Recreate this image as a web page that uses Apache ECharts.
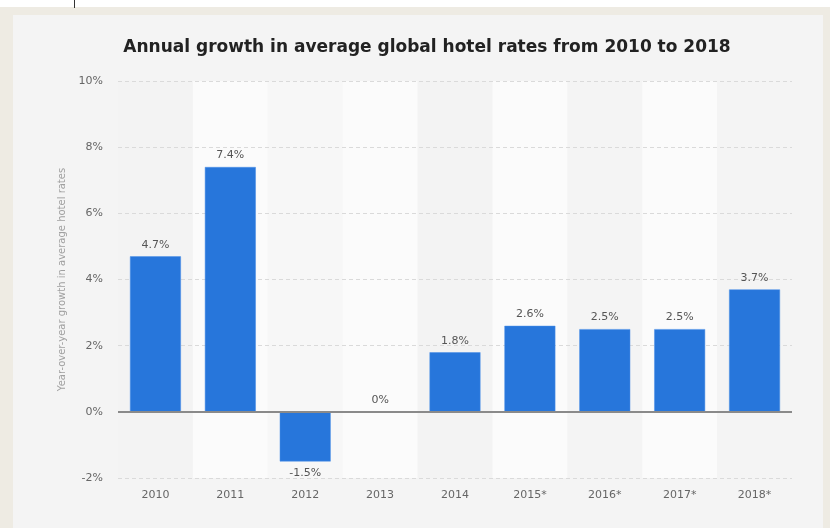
<!DOCTYPE html>
<html>
<head>
<meta charset="utf-8">
<script src="https://cdn.jsdelivr.net/npm/echarts@6/dist/echarts.min.js"></script>
<style>
  html, body { margin: 0; padding: 0; background: #ffffff; }
  #wrap { position: relative; width: 830px; height: 528px; overflow: hidden; }
  #frame { position: absolute; left: 0; top: 7px; width: 830px; height: 521px; background: #eeebe3; }
  #panel { position: absolute; left: 13px; top: 15px; width: 810px; height: 513px; background: #f4f4f4; }
  #tick { position: absolute; left: 74px; top: 0; width: 1px; height: 8px; background: #333; }
  #chart { position: absolute; left: 0; top: 0; width: 830px; height: 528px; }
</style>
</head>
<body>
<div id="wrap">
  <div id="frame"></div>
  <div id="panel"></div>
  <div id="tick"></div>
  <div id="chart"></div>
</div>
<script>
const categories = ['2010', '2011', '2012', '2013', '2014', '2015*', '2016*', '2017*', '2018*'];
const growth = [4.7, 7.4, -1.5, 0, 1.8, 2.6, 2.5, 2.5, 3.7];
const yTicks = [-2, 0, 2, 4, 6, 8, 10];
const bandColors = [
  'rgba(0,0,0,0.004)', 'rgba(255,255,255,0.6)', 'rgba(255,255,255,0.3)',
  'rgba(255,255,255,0.6)', 'rgba(0,0,0,0.004)', 'rgba(255,255,255,0.6)',
  'rgba(255,255,255,0)', 'rgba(255,255,255,0.6)', 'rgba(255,255,255,0)'
];
const titleText = 'Annual growth in average global hotel rates from 2010 to 2018';
const yName = 'Year-over-year growth in average hotel rates';

const chart = echarts.init(document.getElementById('chart'), null, { renderer: 'canvas' });
chart.setOption({
  backgroundColor: 'transparent',
  animation: false,
  title: {
    text: titleText,
    left: 422,
    textAlign: 'center',
    top: 34,
    textStyle: { fontFamily: 'DejaVu Sans', fontWeight: 'bold', fontSize: 17, color: '#222' }
  },
  grid: { left: 118, right: 38, top: 81, bottom: 50 },
  xAxis: {
    type: 'category',
    data: categories,
    z: -1,
    axisLine: { show: false },
    axisTick: { show: false },
    axisLabel: { fontFamily: 'DejaVu Sans', fontSize: 11, color: '#666', margin: 12 },
    splitArea: { show: true, areaStyle: { color: bandColors } }
  },
  yAxis: {
    type: 'value',
    min: yTicks[0],
    max: yTicks[yTicks.length - 1],
    interval: 2,
    z: 1,
    name: yName,
    nameLocation: 'middle',
    nameGap: 50,
    nameTextStyle: { fontFamily: 'DejaVu Sans', fontSize: 10, color: '#a0a0a0' },
    axisLine: { show: false },
    axisTick: { show: false },
    axisLabel: { fontFamily: 'DejaVu Sans', fontSize: 11, color: '#666', margin: 15, formatter: v => v + '%' },
    splitLine: { lineStyle: { color: '#dadada', type: [4, 3], width: 1 } }
  },
  series: [{
    type: 'bar',
    z: 2,
    data: growth.map(v => ({
      value: v,
      label: { position: v < 0 ? 'bottom' : 'top' }
    })),
    barWidth: '68%',
    itemStyle: { color: '#2776db', borderColor: '#4a8fe6', borderWidth: 0.5 },
    label: {
      show: true,
      fontFamily: 'DejaVu Sans',
      fontSize: 11,
      color: '#555',
      distance: 6,
      formatter: p => p.value + '%'
    },
    markLine: {
      silent: true,
      symbol: 'none',
      label: { show: false },
      lineStyle: { color: '#8a8a8a', width: 2, type: 'solid' },
      data: [{ yAxis: 0 }]
    }
  }]
});
</script>
</body>
</html>
